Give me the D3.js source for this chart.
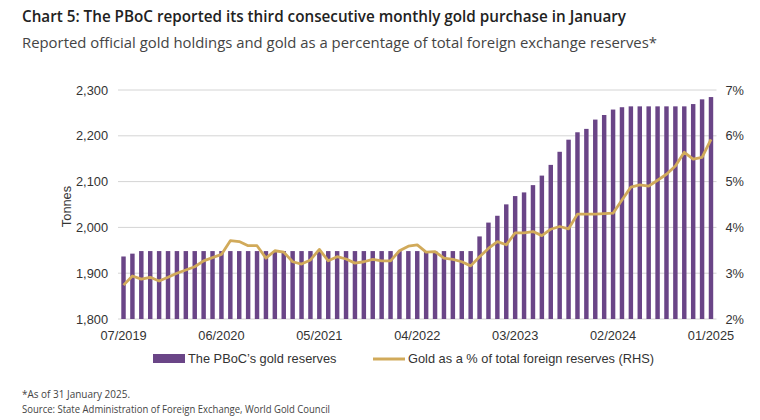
<!DOCTYPE html>
<html>
<head>
<meta charset="utf-8">
<script src="https://cdn.jsdelivr.net/npm/d3@7"></script>
<style>
  html, body { margin: 0; padding: 0; background: #fff; }
  svg { display: block; }
</style>
</head>
<body>
<svg id="chart" width="760" height="420"></svg>
<script>
// ── data ────────────────────────────────────────────────
const months = [
  '07/2019','08/2019','09/2019','10/2019','11/2019','12/2019',
  '01/2020','02/2020','03/2020','04/2020','05/2020','06/2020','07/2020','08/2020','09/2020','10/2020','11/2020','12/2020',
  '01/2021','02/2021','03/2021','04/2021','05/2021','06/2021','07/2021','08/2021','09/2021','10/2021','11/2021','12/2021',
  '01/2022','02/2022','03/2022','04/2022','05/2022','06/2022','07/2022','08/2022','09/2022','10/2022','11/2022','12/2022',
  '01/2023','02/2023','03/2023','04/2023','05/2023','06/2023','07/2023','08/2023','09/2023','10/2023','11/2023','12/2023',
  '01/2024','02/2024','03/2024','04/2024','05/2024','06/2024','07/2024','08/2024','09/2024','10/2024','11/2024','12/2024',
  '01/2025'
];

// tonnes
const goldTonnes = [
  1936.5, 1942.7, 1948.3, 1948.3, 1948.3, 1948.3,
  1948.3, 1948.3, 1948.3, 1948.3, 1948.3, 1948.3, 1948.3, 1948.3, 1948.3, 1948.3, 1948.3, 1948.3,
  1948.3, 1948.3, 1948.3, 1948.3, 1948.3, 1948.3, 1948.3, 1948.3, 1948.3, 1948.3, 1948.3, 1948.3,
  1948.3, 1948.3, 1948.3, 1948.3, 1948.3, 1948.3, 1948.3, 1948.3, 1948.3, 1948.3, 1980.3, 2010.5,
  2025.4, 2050.3, 2068.4, 2076.4, 2092.3, 2113.1, 2136.5, 2165.1, 2191.5, 2207.7, 2215.1, 2235.4,
  2245.4, 2257.3, 2262.4, 2264.3, 2264.3, 2264.3, 2264.3, 2264.3, 2264.3, 2264.3, 2269.3, 2279.6,
  2284.6
];

// gold as % of total FX reserves
const goldPct = [
  2.74, 2.94, 2.87, 2.91, 2.83, 2.91,
  3.00, 3.07, 3.14, 3.27, 3.34, 3.41, 3.71, 3.69, 3.60, 3.60, 3.33, 3.49,
  3.46, 3.25, 3.20, 3.29, 3.52, 3.27, 3.36, 3.31, 3.22, 3.25, 3.30, 3.27,
  3.27, 3.49, 3.59, 3.62, 3.46, 3.47, 3.33, 3.30, 3.25, 3.16, 3.36, 3.54,
  3.69, 3.62, 3.88, 3.88, 3.91, 3.82, 3.96, 4.02, 3.97, 4.29, 4.29, 4.29,
  4.30, 4.31, 4.60, 4.88, 4.93, 4.90, 5.03, 5.16, 5.34, 5.64, 5.49, 5.53,
  5.92
];

const xTickLabels = ['07/2019', '06/2020', '05/2021', '04/2022', '03/2023', '02/2024', '01/2025'];
const leftTicks = [1800, 1900, 2000, 2100, 2200, 2300];
const rightTicks = [2, 3, 4, 5, 6, 7];

// ── layout ──────────────────────────────────────────────
const PURPLE = '#6a4587';
const GOLD = '#d1aa5a';
const TXT = '#333';
const plot = { left: 118, right: 716.5, top: 90, bottom: 319 };

const svg = d3.select('#chart');

const x = d3.scaleBand()
  .domain(months)
  .range([plot.left, plot.right])
  .paddingInner(0.5)
  .paddingOuter(0.37);

const yL = d3.scaleLinear().domain([1800, 2300]).range([plot.bottom, plot.top]);
const yR = d3.scaleLinear().domain([2, 7]).range([plot.bottom, plot.top]);

// titles (the source font is a condensed sans, so squeeze to its width)
svg.append('text')
  .attr('x', 22).attr('y', 22)
  .attr('font-family', '"Open Sans", sans-serif')
  .attr('font-weight', 600)
  .attr('font-size', 16)
  .attr('fill', '#222')
  .attr('textLength', 604)
  .attr('lengthAdjust', 'spacingAndGlyphs')
  .text('Chart 5: The PBoC reported its third consecutive monthly gold purchase in January');

svg.append('text')
  .attr('x', 22).attr('y', 48)
  .attr('font-family', '"Open Sans", sans-serif')
  .attr('font-size', 15)
  .attr('fill', '#444')
  .attr('textLength', 635)
  .attr('lengthAdjust', 'spacingAndGlyphs')
  .text('Reported official gold holdings and gold as a percentage of total foreign exchange reserves*');

// gridlines
svg.append('g')
  .selectAll('line')
  .data(leftTicks)
  .join('line')
  .attr('x1', plot.left).attr('x2', plot.right)
  .attr('y1', d => yL(d)).attr('y2', d => yL(d))
  .attr('stroke', '#d4d4d4')
  .attr('stroke-width', 1);

// left axis
const axisL = svg.append('g')
  .attr('transform', `translate(${plot.left},0)`)
  .call(d3.axisLeft(yL).tickValues(leftTicks).tickSize(0).tickPadding(10).tickFormat(d3.format(',')));
axisL.select('.domain').remove();
axisL.selectAll('text')
  .attr('font-family', '"Liberation Sans", Arial, sans-serif')
  .attr('font-size', 12.8)
  .attr('fill', TXT);

// right axis
const axisR = svg.append('g')
  .attr('transform', `translate(${plot.right},0)`)
  .call(d3.axisRight(yR).tickValues(rightTicks).tickSize(0).tickPadding(9).tickFormat(d => d + '%'));
axisR.select('.domain').remove();
axisR.selectAll('text')
  .attr('font-family', '"Liberation Sans", Arial, sans-serif')
  .attr('font-size', 12.8)
  .attr('fill', TXT);

// bottom axis
const axisB = svg.append('g')
  .attr('transform', `translate(0,${plot.bottom})`)
  .call(d3.axisBottom(x).tickValues(xTickLabels).tickSize(0).tickPadding(12));
axisB.select('.domain').remove();
axisB.selectAll('text')
  .attr('font-family', '"Liberation Sans", Arial, sans-serif')
  .attr('font-size', 12.8)
  .attr('fill', TXT);

// y label
svg.append('text')
  .attr('transform', `translate(71,${(plot.top + plot.bottom) / 2 + 2}) rotate(-90)`)
  .attr('text-anchor', 'middle')
  .attr('font-family', '"Liberation Sans", Arial, sans-serif')
  .attr('font-size', 12.8)
  .attr('fill', TXT)
  .text('Tonnes');

// bars
svg.append('g')
  .selectAll('rect')
  .data(goldTonnes)
  .join('rect')
  .attr('x', (d, i) => x(months[i]))
  .attr('width', x.bandwidth())
  .attr('y', d => yL(d))
  .attr('height', d => yL(1800) - yL(d))
  .attr('fill', PURPLE);

// line (RHS)
const line = d3.line()
  .x((d, i) => x(months[i]) + x.bandwidth() / 2)
  .y(d => yR(d));

svg.append('path')
  .datum(goldPct)
  .attr('d', line)
  .attr('fill', 'none')
  .attr('stroke', GOLD)
  .attr('stroke-width', 2.8)
  .attr('stroke-linejoin', 'round');

// legend
const lg = svg.append('g').attr('font-family', '"Liberation Sans", Arial, sans-serif')
  .attr('font-size', 12.8).attr('fill', TXT);
lg.append('rect').attr('x', 153).attr('y', 354).attr('width', 32).attr('height', 9).attr('fill', PURPLE);
lg.append('text').attr('x', 188).attr('y', 363).text('The PBoC\u2019s gold reserves');
lg.append('line').attr('x1', 373).attr('x2', 405).attr('y1', 359).attr('y2', 359)
  .attr('stroke', GOLD).attr('stroke-width', 3);
lg.append('text').attr('x', 408).attr('y', 363).text('Gold as a % of total foreign reserves (RHS)');

// footnotes
const fn = svg.append('g').attr('font-family', '"Open Sans", sans-serif')
  .attr('font-size', 11).attr('fill', '#444');
fn.append('text').attr('x', 22).attr('y', 398)
  .attr('textLength', 108).attr('lengthAdjust', 'spacingAndGlyphs')
  .text('*As of 31 January 2025.');
fn.append('text').attr('x', 22).attr('y', 413)
  .attr('textLength', 308).attr('lengthAdjust', 'spacingAndGlyphs')
  .text('Source: State Administration of Foreign Exchange, World Gold Council');
</script>
</body>
</html>
